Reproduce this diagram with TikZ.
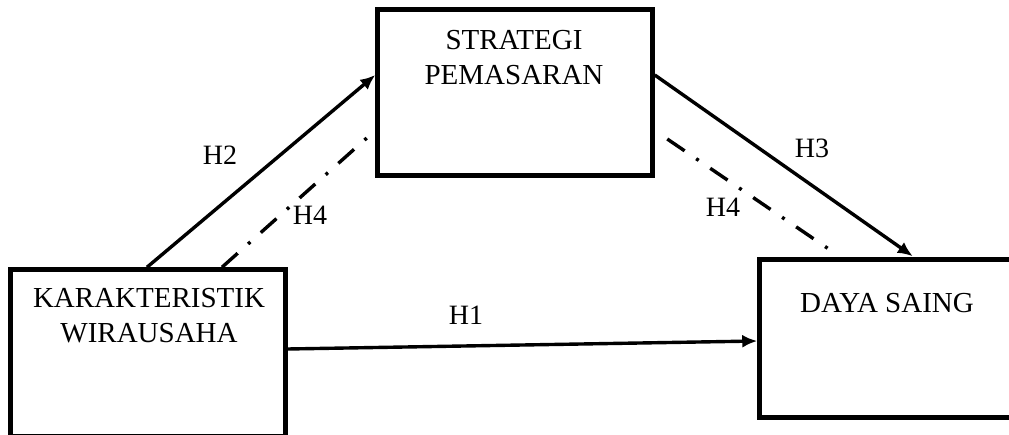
\documentclass[tikz,border=0pt]{standalone}
\usepackage{fontspec}
\setmainfont{Liberation Serif}
\usetikzlibrary{arrows.meta}
\tikzset{
  varbox/.style={draw, line width=4.5pt, rectangle, inner sep=0pt},
  boxtext/.style={align=center, font=\fontsize{29}{35}\selectfont, inner sep=0pt},
  hlabel/.style={font=\fontsize{28}{30}\selectfont, inner sep=0pt},
  solidarrow/.style={line width=3.4pt, -{Latex[length=15pt,width=13pt]}},
  dashdotline/.style={line width=3.4pt, dash pattern=on 21pt off 14pt on 3pt off 14pt}
}
\begin{document}
\begin{tikzpicture}[x=1pt,y=-1pt]
\useasboundingbox (0,0) rectangle (1009,435);
\clip (0,0) rectangle (1009,435);
\fill[white] (0,0) rectangle (1009,435);
% boxes
\node[varbox, minimum width=275pt, minimum height=166.5pt] (kw) at (148,352.75) {};
\node[varbox, minimum width=275pt, minimum height=166pt] (sp) at (515,92.5) {};
\node[varbox, minimum width=252.5pt, minimum height=158pt] (ds) at (885.75,338.5) {};
% box texts
\node[boxtext] (kwt) at (149,316) {KARAKTERISTIK\\WIRAUSAHA};
\node[boxtext] (spt) at (514,58) {STRATEGI\\PEMASARAN};
\node[boxtext] (dst) at (887,303) {DAYA SAING};
% connectors
\draw[solidarrow] ([xshift=-1pt]kw.north) -- ([yshift=17.5pt]sp.west);
\draw[dashdotline] ([xshift=74pt]kw.north) -- ([xshift=-8.5pt,yshift=-45.5pt]sp.west);
\draw[solidarrow] ([yshift=17.5pt]sp.east) -- ([xshift=27pt,yshift=1pt]ds.north);
\draw[dashdotline] ([xshift=12.5pt,yshift=-46.5pt]sp.east) -- ([xshift=-56pt,yshift=7.5pt]ds.north);
\draw[solidarrow] ([yshift=3.75pt]kw.east) -- ([yshift=-2.5pt]ds.west);
% labels
\node[hlabel] (h2) at (220,155) {H2};
\node[hlabel] (h4a) at (310,215) {H4};
\node[hlabel] (h3) at (812,148) {H3};
\node[hlabel] (h4b) at (723,207) {H4};
\node[hlabel] (h1) at (466,315) {H1};
\end{tikzpicture}
\end{document}
